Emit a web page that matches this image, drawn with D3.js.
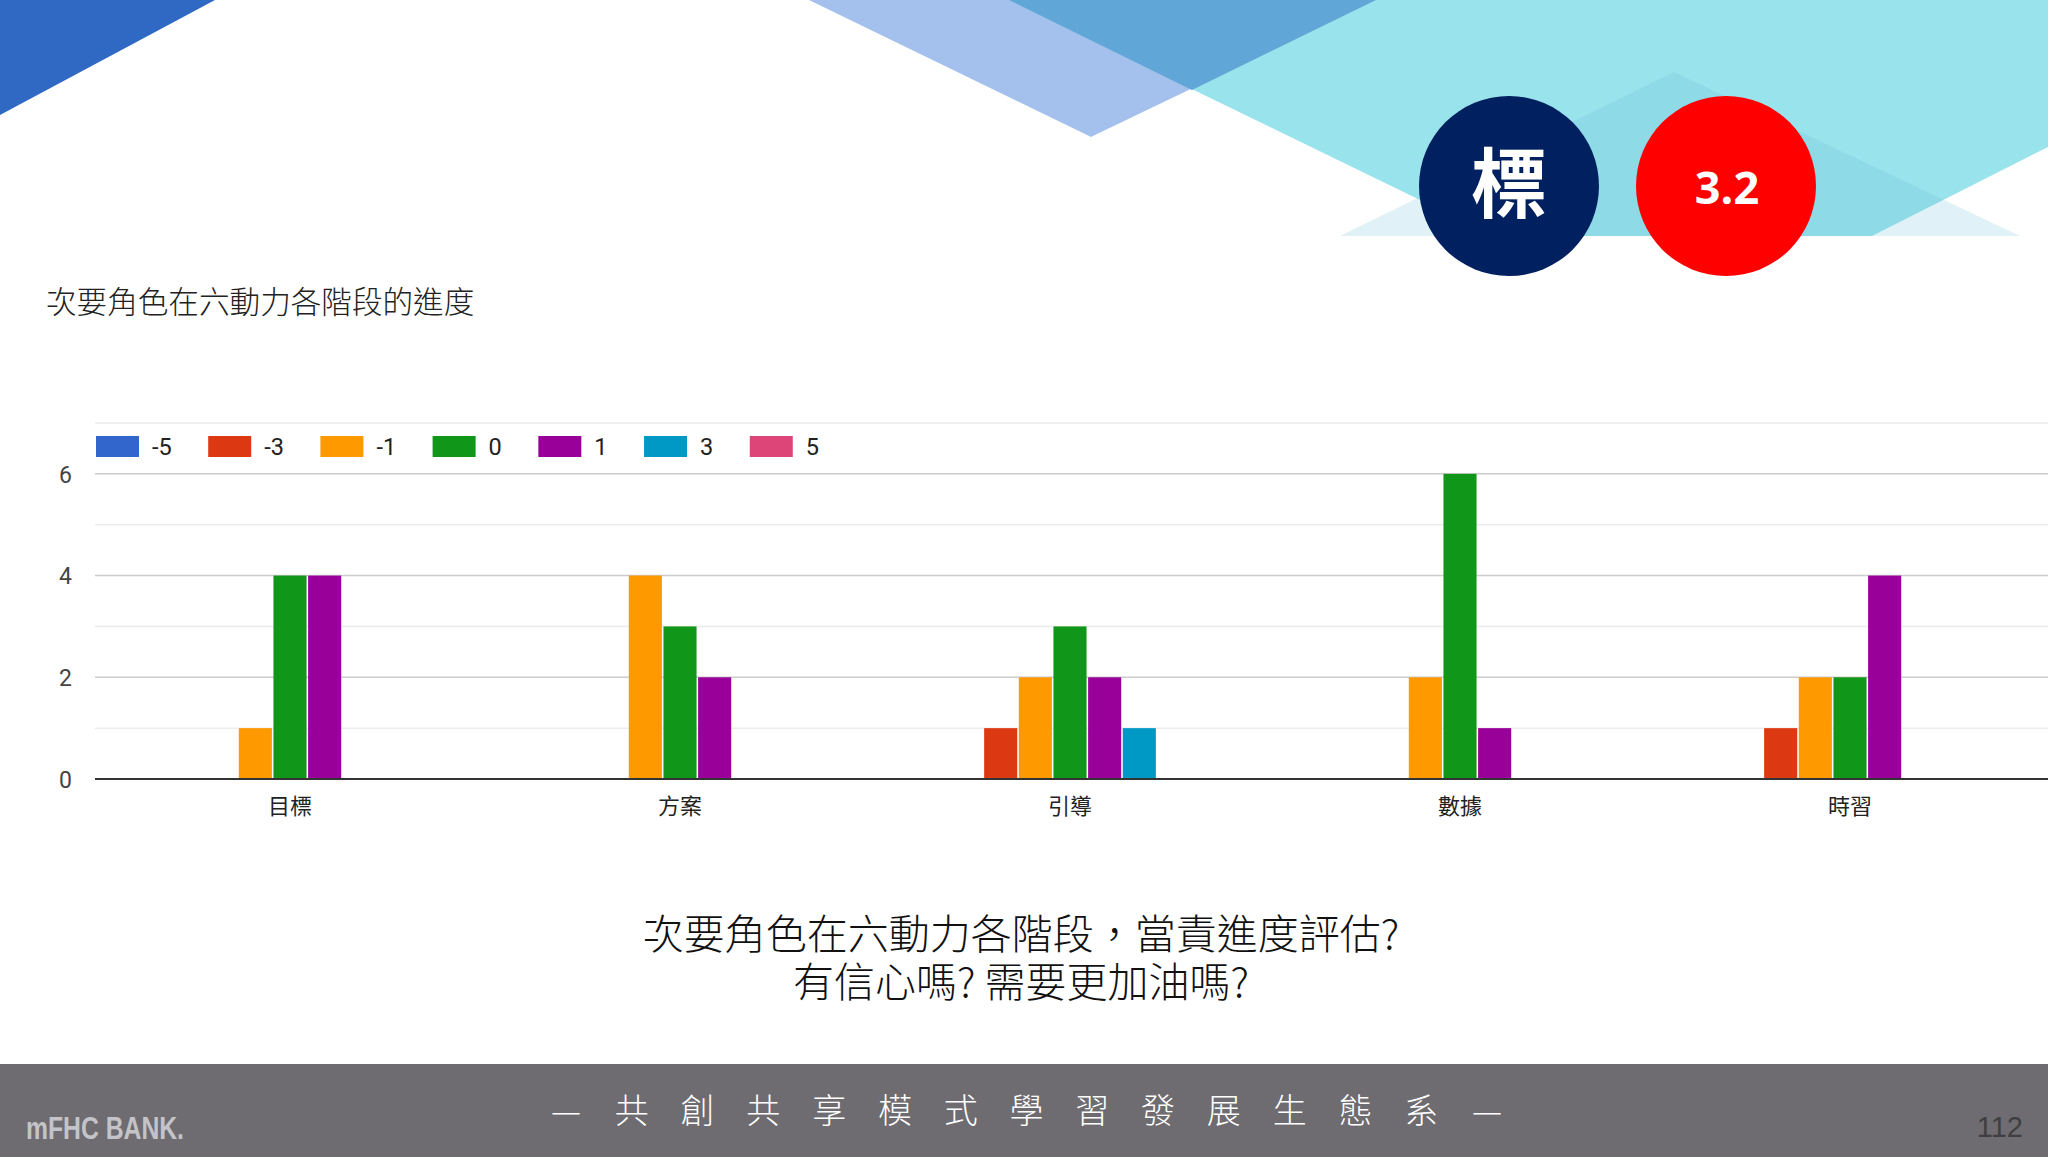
<!DOCTYPE html>
<html>
<head>
<meta charset="utf-8">
<script src="https://cdn.jsdelivr.net/npm/d3@7/dist/d3.min.js"></script>
<style>
  html, body { margin: 0; padding: 0; background: #fff; }
  svg { display: block; }
</style>
</head>
<body>
<svg id="chart" width="2048" height="1157"></svg>
<script>
// ---- data ----
const categories = ["目標", "方案", "引導", "數據", "時習"];
const seriesNames = ["-5", "-3", "-1", "0", "1", "3", "5"];
const seriesColors = ["#3366cc", "#dc3912", "#ff9900", "#109618", "#990099", "#0099c6", "#dd4477"];
const valuesM5 = [0, 0, 0, 0, 0];
const valuesM3 = [0, 0, 1, 0, 1];
const valuesM1 = [1, 4, 2, 2, 2];
const values0  = [4, 3, 3, 6, 2];
const values1  = [4, 2, 2, 1, 4];
const values3  = [0, 0, 1, 0, 0];
const values5  = [0, 0, 0, 0, 0];
const yTickLabels = [0, 2, 4, 6];
const yMinorTicks = [1, 3, 5, 7];
const chartTitle = "次要角色在六動力各階段的進度";
const subtitleLines = ["次要角色在六動力各階段，當責進度評估?", "有信心嗎? 需要更加油嗎?"];
const footerChars = ["—","共","創","共","享","模","式","學","習","發","展","生","態","系","—"];

const seriesValues = [valuesM5, valuesM3, valuesM1, values0, values1, values3, values5];

const svg = d3.select("#chart");
const CJK = "'Noto Sans CJK TC', 'Noto Sans CJK SC', sans-serif";
const LATIN = "Roboto, Arial, 'Liberation Sans', sans-serif";

// ---- background decoration ----
const deco = svg.append("g");
deco.append("polygon").attr("points", "0,0 215,0 0,115").attr("fill", "#2f69c3");
deco.append("polygon").attr("points", "809,0 1376,0 1097,134 1091,137 1085,134").attr("fill", "#a3c1ec");
deco.append("polygon").attr("points", "1009,0 2048,0 2048,147 1872,236 1494,236").attr("fill", "#99e3ec");
deco.append("polygon").attr("points", "1009,0 1376,0 1192,90").attr("fill", "#60a6d6");
deco.append("polygon").attr("points", "1340,236 1674,72 2020,236").attr("fill", "rgb(100,190,215)").attr("fill-opacity", 0.2);

// circles
deco.append("circle").attr("cx", 1509).attr("cy", 186).attr("r", 90).attr("fill", "#002060");
deco.append("circle").attr("cx", 1726).attr("cy", 186).attr("r", 90).attr("fill", "#ff0000");
deco.append("text").attr("x", 1509).attr("y", 212).attr("text-anchor", "middle")
  .attr("font-family", CJK).attr("font-weight", 700).attr("font-size", 76).attr("fill", "#fff").text("標");
deco.append("text").attr("x", 1727).attr("y", 204).attr("text-anchor", "middle")
  .attr("font-family", "'Open Sans', 'Noto Sans', sans-serif").attr("font-weight", 700).attr("font-size", 45).attr("fill", "#fff").text("3.2");

// title
svg.append("text").attr("x", 46).attr("y", 313)
  .attr("font-family", CJK).attr("font-size", 30.6).attr("font-weight", 300).attr("fill", "#222").text(chartTitle);

// ---- chart ----
const plotLeft = 95, plotRight = 2045, gridRight = 2048;
const y = d3.scaleLinear().domain([0, 7]).range([779, 423]);
const x0 = d3.scaleBand().domain(categories).range([plotLeft, plotRight]).padding(0);
const groupFrac = 0.618;
const x1 = d3.scaleBand().domain(seriesNames)
  .range([x0.bandwidth() * (1 - groupFrac) / 2, x0.bandwidth() * (1 + groupFrac) / 2])
  .paddingInner(0.045);

const grid = svg.append("g");
grid.selectAll("line.minor").data(yMinorTicks).join("line").attr("class", "minor")
  .attr("x1", plotLeft).attr("x2", gridRight).attr("y1", d => y(d)).attr("y2", d => y(d))
  .attr("stroke", "#ebebeb").attr("stroke-width", 1.5);
grid.selectAll("line.major").data(yTickLabels.filter(d => d !== 0)).join("line").attr("class", "major")
  .attr("x1", plotLeft).attr("x2", gridRight).attr("y1", d => y(d)).attr("y2", d => y(d))
  .attr("stroke", "#cccccc").attr("stroke-width", 1.5);

// y axis labels via d3 axis
const yAxis = d3.axisLeft(y).tickValues(yTickLabels).tickSize(0).tickPadding(0).tickFormat(d3.format("d"));
const yAxisG = svg.append("g").attr("transform", "translate(72,0)").call(yAxis);
yAxisG.select(".domain").remove();
yAxisG.selectAll("text").attr("font-family", LATIN).attr("font-size", 23).attr("fill", "#444").attr("dy", "0.36em");

// bars
const barData = [];
categories.forEach((c, ci) => {
  seriesNames.forEach((s, si) => {
    barData.push({ cat: c, series: s, value: seriesValues[si][ci], color: seriesColors[si] });
  });
});
svg.append("g").selectAll("rect").data(barData.filter(d => d.value > 0)).join("rect")
  .attr("x", d => x0(d.cat) + x1(d.series))
  .attr("width", x1.bandwidth())
  .attr("y", d => y(d.value))
  .attr("height", d => y(0) - y(d.value))
  .attr("fill", d => d.color);

// baseline
svg.append("line").attr("x1", plotLeft).attr("x2", gridRight).attr("y1", y(0)).attr("y2", y(0))
  .attr("stroke", "#333").attr("stroke-width", 2);

// x axis labels via d3 axis
const xAxis = d3.axisBottom(x0).tickSize(0).tickPadding(0);
const xAxisG = svg.append("g").attr("transform", `translate(0,${y(0)})`).call(xAxis);
xAxisG.select(".domain").remove();
xAxisG.selectAll("text").attr("font-family", CJK).attr("font-size", 22).attr("fill", "#222")
  .attr("dy", 0).attr("y", 35);

// legend
const legend = svg.append("g").attr("transform", "translate(96,436)");
let lx = 0;
seriesNames.forEach((s, i) => {
  const g = legend.append("g").attr("transform", `translate(${lx},0)`);
  g.append("rect").attr("width", 43).attr("height", 21).attr("fill", seriesColors[i]);
  const t = g.append("text").attr("x", 56).attr("y", 18.5)
    .attr("font-family", LATIN).attr("font-size", 23.5).attr("fill", "#222").text(s);
  const w = t.node().getComputedTextLength();
  lx += 56 + w + 36.5;
});

// subtitle (one text block, two lines)
const sub = svg.append("text").attr("text-anchor", "middle")
  .attr("font-family", CJK).attr("font-weight", 300).attr("font-size", 41).attr("fill", "#111");
subtitleLines.forEach((line, i) => {
  sub.append("tspan").attr("x", 1021).attr("y", 949 + i * 48).text(line);
});

// footer
svg.append("rect").attr("x", 0).attr("y", 1064).attr("width", 2048).attr("height", 93).attr("fill", "#6e6c70");
const fx = d3.scalePoint().domain(d3.range(footerChars.length)).range([566, 1487]);
svg.append("g").selectAll("text").data(footerChars).join("text")
  .attr("x", (d, i) => fx(i)).attr("y", 1123).attr("text-anchor", "middle")
  .attr("font-family", CJK).attr("font-weight", 300).attr("font-size", 34).attr("fill", "#fff").text(d => d);
svg.append("text").attr("x", 26).attr("y", 1139)
  .attr("font-family", "'Liberation Sans Narrow', 'Liberation Sans', sans-serif").attr("font-weight", 700)
  .attr("font-size", 31).attr("textLength", 158).attr("lengthAdjust", "spacingAndGlyphs")
  .attr("fill", "#c4c4c8").text("mFHC BANK.");
svg.append("text").attr("x", 2023).attr("y", 1137).attr("text-anchor", "end")
  .attr("font-family", "'Liberation Sans Narrow', 'Liberation Sans', sans-serif")
  .attr("font-size", 29).attr("fill", "#3f3f42").text("112");
</script>
</body>
</html>
